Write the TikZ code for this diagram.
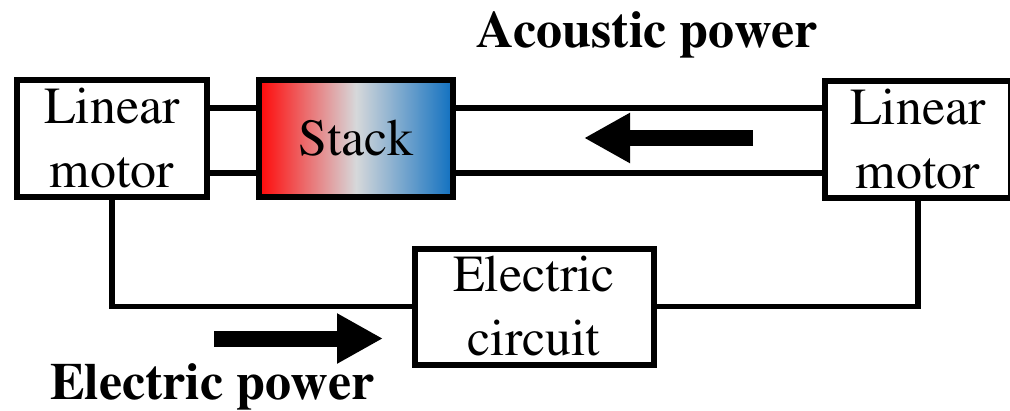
\documentclass[tikz,border=0pt]{standalone}
\usepackage[T1]{fontenc}
\usepackage{times}
\usetikzlibrary{arrows.meta}
\definecolor{hotred}{RGB}{255,8,8}
\definecolor{midgray}{RGB}{214,216,218}
\definecolor{coldblue}{RGB}{16,112,192}
\begin{document}
\begin{tikzpicture}[x=1pt,y=-1pt,
  box/.style={draw=black,line width=6pt,fill=white,align=center,inner sep=0pt,
    font=\rmfamily\fontsize{52}{64}\selectfont},
  wire/.style={line width=5.5pt,line cap=butt},
  bigarrow/.style={line width=16pt,-{Triangle[length=46pt,width=47pt]}},
  title/.style={font=\rmfamily\fontsize{52}{63}\selectfont\bfseries,inner sep=0pt}]
\useasboundingbox (0,0) rectangle (1010,410);
% boxes
\node[box,minimum width=190pt,minimum height=117pt] (lm1) at (112,138.5) {Linear\\motor};
\node[box,minimum width=194pt,minimum height=117pt,
  left color=hotred,right color=coldblue,middle color=midgray] (stack) at (356,138.5) {Stack};
\node[box,minimum width=186pt,minimum height=117pt] (lm2) at (918,139) {Linear\\motor};
\node[box,minimum width=239pt,minimum height=116pt] (ec) at (534,306.5) {Electric\\circuit};
% acoustic tube
\draw[wire] ([yshift=30.5pt]lm1.east) -- ([yshift=30.5pt]stack.west);
\draw[wire] ([yshift=-34.5pt]lm1.east) -- ([yshift=-34.5pt]stack.west);
\draw[wire] ([yshift=30.5pt]stack.east) -- ([yshift=31pt]lm2.west);
\draw[wire] ([yshift=-34.5pt]stack.east) -- ([yshift=-34pt]lm2.west);
% electric wiring
\draw[wire] (lm1.south) -- (lm1.south |- ec.west) -- (ec.west);
\draw[wire] (ec.east) -- (lm2.south |- ec.east) -- (lm2.south);
% power arrows
\coordinate (atail) at (753,138);
\coordinate (ahead) at (584,138);
\draw[bigarrow] (atail) -- (ahead);
\coordinate (etail) at (214,338.5);
\coordinate (ehead) at (383,338.5);
\draw[bigarrow] (etail) -- (ehead);
% labels
\node[title,anchor=base] (acl) at (647,47) {Acoustic power};
\node[title,anchor=base west] (ecl) at (50,399) {Electric power};
\end{tikzpicture}
\end{document}
